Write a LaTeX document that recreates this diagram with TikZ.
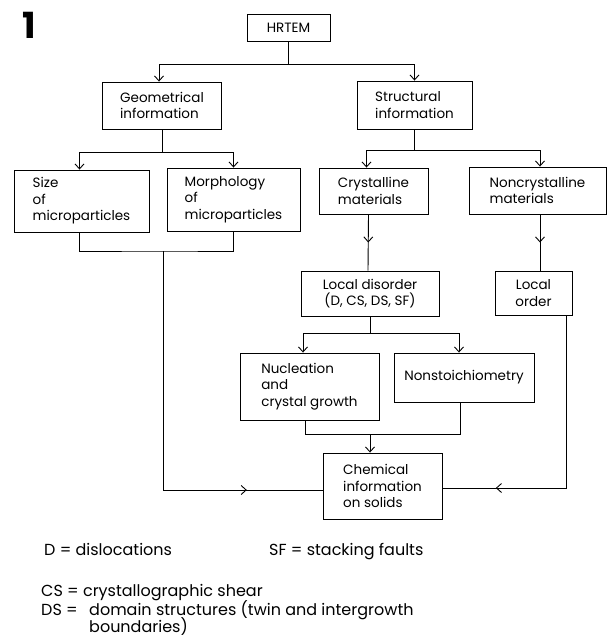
\documentclass[tikz,border=0pt]{standalone}
\usepackage{fontspec}
\setmainfont{Poppins}
\usetikzlibrary{arrows.meta}
\usetikzlibrary{decorations.markings}

\begin{document}
\begin{tikzpicture}[x=1pt,y=-1pt,
    box/.style={draw,line width=0.9pt,inner sep=0pt,align=left,font=\fontsize{13.5}{16.5}\selectfont},
    legend/.style={inner sep=0pt,anchor=base west,font=\fontsize{16}{20}\selectfont},
    tip/.style={line width=0.9pt,-{Straight Barb[length=5pt,width=9pt]}},
    link/.style={line width=0.9pt},
    midtip/.style={line width=0.9pt,postaction={decorate},
        decoration={markings,mark=at position #1 with {\arrow{Straight Barb[length=5pt,width=9pt]}}}}]
  \useasboundingbox (0,0) rectangle (608,638);
  % figure number
  \node [anchor=north west,inner sep=0pt,font=\fontsize{36}{36}\selectfont\bfseries] (fignum) at (22,12) {1};
  % boxes
  \node [box,minimum width=83pt,minimum height=27pt] (hrtem) at (288.5,27.5) {HRTEM};
  \node [box,minimum width=119pt,minimum height=47pt] (geo) at (162,105.5) {Geometrical\\information};
  \node [box,minimum width=115pt,minimum height=48pt] (struc) at (414.5,105) {Structural\\information};
  \node [box,minimum width=135pt,minimum height=62pt] (size) at (81.5,201) {Size\\of\\microparticles};
  \node [box,minimum width=133pt,minimum height=63pt] (morph) at (233.5,199.5) {Morphology\\of\\microparticles};
  \node [box,minimum width=109pt,minimum height=46pt] (cryst) at (373.5,191) {Crystalline\\materials};
  \node [box,minimum width=137pt,minimum height=47pt] (noncr) at (537.5,190.5) {Noncrystalline\\materials};
  \node [box,minimum width=138pt,minimum height=45pt,align=center] (disorder) at (370,293.5) {Local disorder\\(D, CS, DS, SF)};
  \node [box,minimum width=77pt,minimum height=44pt,align=center] (order) at (533.5,293) {Local\\order};
  \node [box,minimum width=139pt,minimum height=67pt] (nucl) at (309.5,386.5) {Nucleation\\and\\crystal growth};
  \node [box,minimum width=140pt,minimum height=49pt] (nonst) at (464,377.5) {Nonstoichiometry};
  \node [box,minimum width=119pt,minimum height=66pt] (chem) at (382.5,486) {Chemical\\information\\on solids};
  % junction points
  \coordinate (gm) at (163,251);
  \coordinate (nl) at (305,434);
  \coordinate (nr) at (460,434);
  \coordinate (nm) at (370,434);
  % connectors
  \draw [tip] (hrtem.south) -- ++(0,23) -| ([xshift=-3pt]geo.north);
  \draw [tip] (hrtem.south) -- ++(0,23) -| (struc.north);
  \draw [tip] (geo.south) -- ++(0,23) -| ([xshift=-2pt]size.north);
  \draw [tip] (geo.south) -- ++(0,23) -| (morph.north);
  \draw [tip] (struc.south) -- ++(0,21) -| ([xshift=-7pt]cryst.north);
  \draw [tip] (struc.south) -- ++(0,21) -| ([xshift=2.5pt]noncr.north);
  \draw [midtip=0.5] ([xshift=-5pt]cryst.south) -- ([xshift=-2pt]disorder.north);
  \draw [midtip=0.5] ([xshift=2.5pt]noncr.south) -- ([xshift=6.5pt]order.north);
  \draw [tip] (disorder.south) -- ++(0,17) -| ([xshift=-6.5pt]nucl.north);
  \draw [tip] (disorder.south) -- ++(0,17) -| ([xshift=-5pt]nonst.north);
  \draw [link] ([xshift=-2pt]size.south) |- (gm) -| (morph.south);
  \draw [link] (nucl.south -| nl) -- (nl) -- (nr) -- (nonst.south -| nr);
  \draw [tip] (nm) -- (chem.north -| nm);
  \draw [midtip=0.81] (gm) |- ([yshift=-4pt]chem.west);
  \draw [midtip=0.82] ([xshift=-6pt]order.south east) |- ([yshift=-2pt]chem.east);
  % abbreviations
  \node [legend] (dleg) at (44,555) {D = dislocations};
  \node [legend] (sfleg) at (269,555) {SF = stacking faults};
  \node [legend] (csleg) at (41,596) {CS = crystallographic shear};
  \node [legend] (dsleg) at (41,615) {DS =};
  \node [legend] (dstext) at (89,615) {domain structures (twin and intergrowth};
  \node [legend] (bdtext) at (89,632) {boundaries)};
\end{tikzpicture}
\end{document}
